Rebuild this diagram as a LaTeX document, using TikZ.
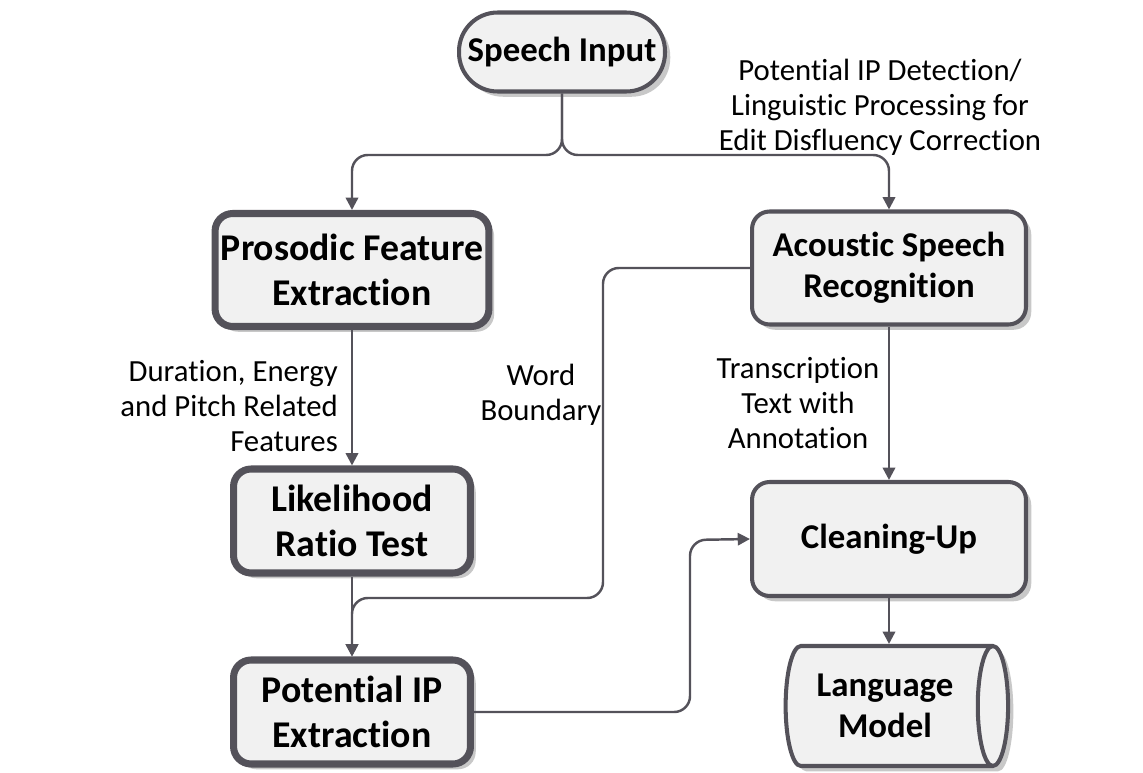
\documentclass[tikz,border=0pt]{standalone}
\usepackage{fontspec}
\setmainfont{Carlito}[Ligatures=NoCommon]
\usetikzlibrary{shapes.geometric,shadows,arrows.meta}
\definecolor{edge}{RGB}{84,82,90}
\definecolor{boxfill}{RGB}{241,241,241}
\definecolor{shade}{RGB}{200,200,200}

\begin{document}
\begin{tikzpicture}[x=0.02cm,y=-0.02cm,
    box/.style={draw=edge,fill=boxfill,rounded corners=10pt,align=center,
      drop shadow={shadow xshift=3pt,shadow yshift=-3pt,fill=shade,opacity=1}},
    heavy/.style={box,line width=4pt,font=\fontsize{21.5}{25.5}\selectfont\bfseries},
    light/.style={box,line width=2.3pt,font=\fontsize{19.8}{23.5}\selectfont\bfseries},
    conn/.style={draw=edge,line width=1.4pt,rounded corners=9pt,
      -{Triangle[width=7pt,length=7pt]}},
    lbl/.style={font=\fontsize{17.5}{20}\selectfont,align=center}]
  \useasboundingbox (0,0) rectangle (1143,773);
  % boxes
  \node[light,rounded corners=22pt,minimum width=4.12cm,minimum height=1.58cm]
    (si) at (562,52) {Speech Input};
  \node[heavy,minimum width=5.42cm,minimum height=2.26cm]
    (pfe) at (352,270) {Prosodic Feature\\Extraction};
  \node[light,minimum width=5.48cm,minimum height=2.26cm]
    (asr) at (889,268) {Acoustic Speech\\Recognition};
  \node[heavy,minimum width=4.74cm,minimum height=2.08cm]
    (lrt) at (352,521) {Likelihood\\Ratio Test};
  \node[heavy,minimum width=4.74cm,minimum height=2.08cm]
    (pip) at (352,712) {Potential IP\\Extraction};
  \node[light,minimum width=5.48cm,minimum height=2.28cm]
    (clu) at (889,539) {Cleaning-Up};
  \node[light,cylinder,rounded corners=0pt,aspect=0.4,
    minimum width=2.4cm,minimum height=4.45cm]
    (lm) at (885,706) {Language\\Model};
  % bend points
  \coordinate (split) at (562,155);
  \coordinate (wbx) at (603,598);
  \coordinate (bend) at (690,540);
  % connectors
  \draw[conn] (si.south) |- (pfe.north |- split) -- (pfe.north);
  \draw[conn] (si.south) |- (asr.north |- split) -- (asr.north);
  \draw[conn,rounded corners=0pt] (pfe) -- (lrt);
  \draw[conn,rounded corners=0pt] (lrt) -- (pip);
  \draw[conn] (asr.west) -| (wbx) -| (pip.north);
  \draw[conn,rounded corners=0pt] (asr) -- (clu);
  \draw[conn] (pip.east) -| (bend) -- (clu.west);
  \draw[conn,rounded corners=0pt] (clu) -- (clu |- lm.north);
  % labels
  \node[lbl] (ipd) at (880,107)
    {Potential IP Detection/\\Linguistic Processing for\\Edit Disfluency Correction};
  \node[lbl,align=right,anchor=east] (dep) at (344,406)
    {Duration, Energy\\and Pitch Related\\Features};
  \node[lbl] (wb) at (541,395) {Word\\Boundary};
  \node[lbl] (tta) at (798,403) {Transcription\\Text with\\Annotation};
\end{tikzpicture}
\end{document}
